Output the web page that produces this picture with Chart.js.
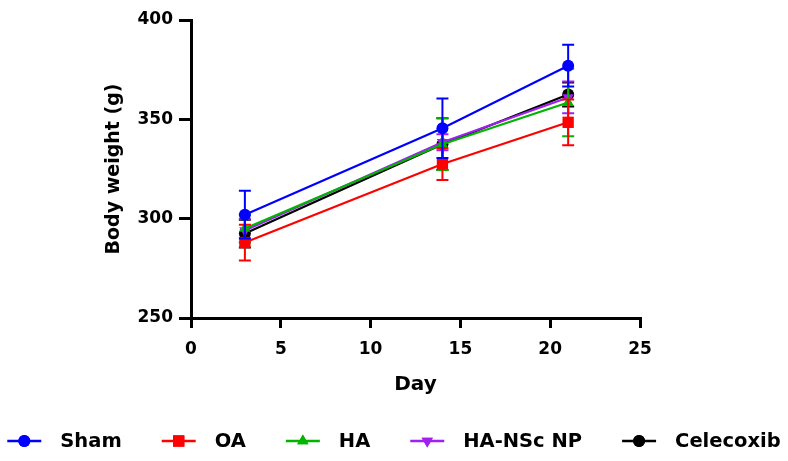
<!DOCTYPE html>
<html>
<head>
<meta charset="utf-8">
<script src="https://cdn.jsdelivr.net/npm/chart.js@4"></script>
<style>
  html,body{margin:0;padding:0;background:#fff;}
  #wrap{width:788px;height:461px;}
</style>
</head>
<body>
<div id="wrap"><canvas id="c" width="788" height="461"></canvas></div>
<script>
/* ------------ data ------------ */
const DAYS      = [3, 14, 21];
const SERIES    = ['Sham', 'OA', 'HA', 'HA-NSc NP', 'Celecoxib'];
const SHAM      = [302, 345.5, 377];
const SHAM_SD   = [12, 15, 10.5];
const OA        = [288, 327.5, 348.5];
const OA_SD     = [9, 8, 11.5];
const HA        = [295, 337.5, 358.5];
const HA_SD     = [7, 13, 17];
const NSC       = [294, 338.5, 361];
const NSC_SD    = [6, 4, 8];
const CELE      = [292.5, 337.5, 362.5];
const CELE_SD   = [7, 13, 6];
const X_TICKS   = [0, 5, 10, 15, 20, 25];
const Y_TICKS   = [250, 300, 350, 400];

/* ------------ styles ------------ */
const COLORS = ['#0000ff', '#ff0000', '#00b400', '#a020f0', '#000000'];
const STYLES = [
  {pointStyle:'circle',   radius:6,   rotation:0},
  {pointStyle:'rect',     radius:8,   rotation:0},
  {pointStyle:'triangle', radius:6.5, rotation:0},
  {pointStyle:'triangle', radius:6.5, rotation:180},
  {pointStyle:'circle',   radius:6,   rotation:0}
];
const VALUES = [SHAM, OA, HA, NSC, CELE];
const SDS    = [SHAM_SD, OA_SD, HA_SD, NSC_SD, CELE_SD];
const FONT   = '"DejaVu Sans", Arial, sans-serif';

const datasets = SERIES.map((name, i) => ({
  label: name,
  data: DAYS.map((d, j) => ({x: d, y: VALUES[i][j]})),
  sd: SDS[i],
  borderColor: COLORS[i],
  backgroundColor: COLORS[i],
  borderWidth: 2.2,
  pointStyle: STYLES[i].pointStyle,
  pointRadius: STYLES[i].radius,
  pointRotation: STYLES[i].rotation,
  pointBorderWidth: 0,
  tension: 0
}));

/* ------------ plugins ------------ */
const errorBars = {
  id: 'errorBars',
  beforeDatasetDraw(chart, args){
    const ds = chart.data.datasets[args.index];
    const ys = chart.scales.y;
    const ctx = chart.ctx;
    ctx.save();
    ctx.strokeStyle = ds.borderColor;
    ctx.lineWidth = 2;
    args.meta.data.forEach((pt, j) => {
      const v = ds.data[j].y, sd = ds.sd[j];
      const top = ys.getPixelForValue(v + sd), bot = ys.getPixelForValue(v - sd);
      ctx.beginPath();
      ctx.moveTo(pt.x, top); ctx.lineTo(pt.x, bot);
      ctx.moveTo(pt.x - 6, top); ctx.lineTo(pt.x + 6, top);
      ctx.moveTo(pt.x - 6, bot); ctx.lineTo(pt.x + 6, bot);
      ctx.stroke();
    });
    ctx.restore();
  }
};

const bottomLegend = {
  id: 'bottomLegend',
  afterDraw(chart){
    const ctx = chart.ctx;
    const markW = 34, gapT = 19, gapI = 40;
    ctx.save();
    ctx.font = 'bold 19.5px ' + FONT;
    ctx.textBaseline = 'middle';
    const items = chart.data.datasets.map(ds => ({ds, w: ctx.measureText(ds.label).width}));
    const total = items.reduce((s, it) => s + markW + gapT + it.w, 0) + gapI * (items.length - 1);
    let x = (chart.width - total) / 2;
    const y = chart.height - 20;
    items.forEach(({ds, w}) => {
      ctx.strokeStyle = ds.borderColor;
      ctx.lineWidth = 2.7;
      ctx.beginPath(); ctx.moveTo(x, y); ctx.lineTo(x + markW, y); ctx.stroke();
      ctx.fillStyle = ds.backgroundColor;
      Chart.helpers.drawPoint(ctx, {
        pointStyle: ds.pointStyle, rotation: ds.pointRotation,
        radius: ds.pointRadius, borderWidth: 0
      }, x + markW / 2, y);
      ctx.fill();
      ctx.fillStyle = '#000';
      ctx.fillText(ds.label, x + markW + gapT, y + 1);
      x += markW + gapT + w + gapI;
    });
    ctx.restore();
  }
};

/* ------------ chart ------------ */
new Chart(document.getElementById('c'), {
  type: 'line',
  data: {datasets},
  options: {
    responsive: false,
    animation: false,
    layout: {padding: {left: 103, right: 148, top: 20, bottom: 64}},
    plugins: {legend: {display: false}, tooltip: {enabled: false}},
    scales: {
      x: {
        type: 'linear', min: 0, max: 25,
        afterFit: s => { s.height = 79; },
        afterBuildTicks: s => { s.ticks = X_TICKS.map(v => ({value: v})); },
        border: {display: true, color: '#000', width: 3},
        grid: {drawOnChartArea: false, color: '#000', lineWidth: 3, tickLength: 10},
        ticks: {color: '#000', padding: 11, font: {family: FONT, size: 17, weight: 'bold'}},
        title: {display: true, text: 'Day', color: '#000', padding: 0,
                font: {family: FONT, size: 20, weight: 'bold'}}
      },
      y: {
        type: 'linear', min: 250, max: 400,
        afterFit: s => { s.width = 88; },
        afterBuildTicks: s => { s.ticks = Y_TICKS.map(v => ({value: v})); },
        border: {display: true, color: '#000', width: 3},
        grid: {drawOnChartArea: false, color: '#000', lineWidth: 3, tickLength: 12},
        ticks: {color: '#000', padding: 6, font: {family: FONT, size: 17, weight: 'bold'}},
        title: {display: true, text: 'Body weight (g)', color: '#000', padding: 0,
                font: {family: FONT, size: 19, weight: 'bold'}}
      }
    }
  },
  plugins: [errorBars, bottomLegend]
});
</script>
</body>
</html>
